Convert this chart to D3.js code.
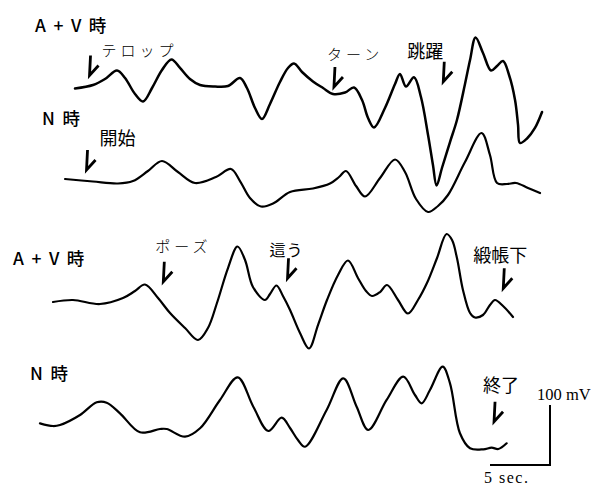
<!DOCTYPE html>
<html>
<head>
<meta charset="utf-8">
<script src="https://cdn.jsdelivr.net/npm/d3@7/dist/d3.min.js"></script>
<style>
  html, body { margin: 0; padding: 0; background: #fff; }
  svg { display: block; }
</style>
</head>
<body>
<svg id="chart" width="595" height="486"></svg>
<script>
// Time in seconds, potential in mV relative to each trace's resting level.
const traceNames = ["A + V 時", "N 時", "A + V 時", "N 時"];

const t1 = [6.25,7.75,8.75,9.75,10.42,11.25,11.92,12.67,13.5,14.29,15,15.83,16.67,17.92,19,20,20.58,21.25,21.83,22.5,23.33,24,24.5,25.17,26.08,26.92,27.75,28.75,29.5,30.17,30.67,31.17,32.08,32.92,33.33,33.83,34.5,35.08,35.67,36.08,36.38,36.83,37.5,38.08,38.75,39.17,39.63,40.25,40.92,41.42,41.92,42.42,42.92,43.17,43.33,43.92,44.58,45.17];
const v1 = [2.5,8.3,18.3,32.5,20,-6.7,-19.2,3.3,33.3,50.8,36.7,18.3,8.3,5.8,6.7,20,3.3,-30,-48.3,-23.3,13.3,36.7,44.2,30,14.2,3.3,-6.7,-4.2,4.2,-16.7,-46.7,-62.5,-30,10,26.7,5.8,21.2,-11.7,-75,-125,-159.2,-130,-86.7,-50,10,50,87.5,61.7,32.5,40,48.3,25,-16.7,-58.3,-88.3,-80.8,-63.3,-36.7];

const t2 = [5.42,7.75,9.83,11.08,12.33,13.5,14.83,16.25,18,19.25,20,20.83,21.75,22.75,24.17,26.08,27.5,28.25,28.83,29.67,30.42,31.67,32.92,33.75,34.67,35.67,36.5,37.33,38.75,40.13,40.83,41.42,42.25,43,44,45];
const v2 = [1.7,-2.5,-5.8,-1.7,15,31.7,13.3,-5,5,18.3,-1.7,-30,-44.2,-39.2,-20,-14.2,-5.8,5,15,-10,-27.5,3.3,34.2,13.3,-31.7,-53.3,-43.3,-25,30,78.3,41.7,-5,-6.7,-5,-13.3,-21.7];

const t3 = [4.42,6.08,8.33,10.25,11.25,12.08,13.17,14.17,15.42,16.5,17.33,18.08,19,19.79,20.42,21.08,22.08,22.5,23.04,23.58,24.17,25,25.75,26.5,27.25,28.17,29,29.83,30.5,31,31.67,32.25,33.17,34,34.83,35.58,36.42,37.21,37.67,38.08,38.58,39.17,39.58,40.25,40.83,41.25,41.92,42.75];
const v3 = [-3.3,0,-6.7,3.3,15,25.8,3.3,-21.7,-46.7,-66.7,-46.7,-5,53.3,89.2,66.7,21.7,0,10,24.2,6.7,-16.7,-55,-80.8,-41.7,0,41.7,65.8,36.7,15,6.7,13.3,25,0,-22.5,0,28.3,70,110,100,70,16.7,-21.7,-29.2,-25,-8.3,0,-10,-28.3];

const t4 = [3.33,4.42,5,6.67,8.06,8.89,10,11.67,13.33,13.89,15.42,16.67,18.33,19.81,21.11,22.36,23.47,24.17,24.83,25.42,27.22,28.61,29.72,30.69,32.22,33.61,34.58,35.14,35.83,36.89,37.5,38.33,39.17,40.28,40.97,41.53,42.22];
const v4 = [2.8,-1.7,0,16.7,37.8,37.2,19.5,-12.2,-6.7,-6.7,-19.5,-5.5,41.7,79.5,30.5,-10,12.2,-5,-25,-36.2,25,77.8,30.5,-8.3,41.7,80.5,50,36.2,58.3,97.2,69.5,-13.8,-38.8,-40.5,-37.8,-40,-30.5];

// Event markers: trace index, label, time and level of the tick's point.
const eventTrace = [0, 0, 0, 1, 2, 2, 2, 3];
const eventLabels = ["テロップ", "ターン", "跳躍", "開始", "ポーズ", "這う", "緞帳下", "終了"];
const eventTimes = [7.46, 27.83, 36.94, 7.21, 13.61, 23.96, 41.94, 41.17];
const eventLevels = [24.2, 5, 13.8, 16.7, 30.5, 36.2, 19.5, 5.5];

// Scale bar values
const barSeconds = 5;
const barMillivolts = 100;

// ---------------------------------------------------------------- layout
const svg = d3.select("#chart");
const x = d3.scaleLinear().domain([0, 10]).range([0, 120]);
const baselines = [90, 180, 300, 425];
const ys = baselines.map(b => d3.scaleLinear().domain([0, 100]).range([b, b - 60]));

const series = [[t1, v1], [t2, v2], [t3, v3], [t4, v4]];
const line = (y) => d3.line()
  .x(d => x(d[0]))
  .y(d => y(d[1]))
  .curve(d3.curveCatmullRom.alpha(0.5));

series.forEach(([ts, vs], i) => {
  const pts = ts.map((t, k) => [t, vs[k]]);
  svg.append("path")
    .attr("d", line(ys[i])(pts))
    .attr("fill", "none")
    .attr("stroke", "#000")
    .attr("stroke-width", i === 0 ? 2.5 : 2.2)
    .attr("stroke-linejoin", "round")
    .attr("stroke-linecap", "round");
});

// Trace titles
const titlePos = [[35, 32], [42, 125], [13, 265], [30, 380]];
traceNames.forEach((name, i) => {
  svg.append("text")
    .attr("x", titlePos[i][0]).attr("y", titlePos[i][1])
    .attr("font-family", "'Noto Sans CJK JP', 'Noto Sans', sans-serif")
    .attr("font-weight", 500)
    .attr("font-size", 17.5)
    .attr("letter-spacing", 1.8)
    .text(name);
});

// Event ticks and their captions (caption offsets from the tick point)
const captionOffset = [[12, -19], [-7, -27], [-36, -24], [13, -25], [-8, -30], [-18, -22], [-30, -26], [-11, -30]];
const captionSize = [15, 15, 18, 18, 15, 16, 18, 18];
const captionSpacing = [4, 4, 0, 0, 4, 1, 0, 0];
eventLabels.forEach((lab, i) => {
  const px = x(eventTimes[i]);
  const py = ys[eventTrace[i]](eventLevels[i]);
  svg.append("path")
    .attr("d", `M${px + 1},${py - 20} L${px},${py} L${px + 9},${py - 10}`)
    .attr("fill", "none")
    .attr("stroke", "#000")
    .attr("stroke-width", 2.8)
    .attr("stroke-linejoin", "miter")
    .attr("stroke-linecap", "butt");
  svg.append("text")
    .attr("x", px + captionOffset[i][0])
    .attr("y", py + captionOffset[i][1])
    .attr("font-family", "'Noto Sans CJK JP', sans-serif")
    .attr("font-weight", captionSize[i] === 15 ? 300 : 400)
    .attr("font-size", captionSize[i])
    .attr("letter-spacing", captionSpacing[i])
    .text(lab);
});

// Scale bar: 5 sec horizontal, 100 mV vertical, corner at lower right
const corner = [550, 465];
const barW = x(barSeconds) - x(0);
const barH = ys[3](0) - ys[3](barMillivolts);
svg.append("path")
  .attr("d", `M${corner[0] - barW},${corner[1]} H${corner[0]} V${corner[1] - barH}`)
  .attr("fill", "none")
  .attr("stroke", "#000")
  .attr("stroke-width", 2);
svg.append("text")
  .attr("x", corner[0] - 13).attr("y", corner[1] - barH - 5)
  .attr("font-family", "'Liberation Serif', 'DejaVu Serif', serif")
  .attr("font-size", 16.5)
  .text(`${barMillivolts} mV`);
svg.append("text")
  .attr("x", corner[0] - barW - 6).attr("y", corner[1] + 18)
  .attr("font-family", "'Liberation Serif', 'DejaVu Serif', serif")
  .attr("font-size", 16)
  .attr("letter-spacing", 1.5)
  .text(`${barSeconds} sec.`);
</script>
</body>
</html>
